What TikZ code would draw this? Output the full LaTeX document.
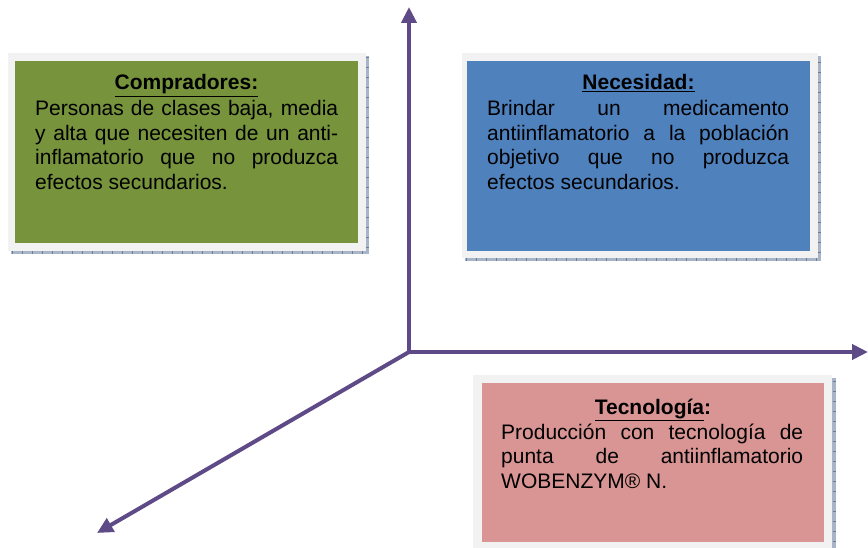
\documentclass[tikz,border=0pt]{standalone}
\usepackage{fontspec}
\setmainfont{Liberation Sans}
\usetikzlibrary{arrows.meta}

\definecolor{eje}{RGB}{94,74,134}
\definecolor{marco}{RGB}{242,242,242}
\definecolor{sombra}{RGB}{168,180,200}
\definecolor{raya}{RGB}{110,124,150}
\definecolor{verde}{RGB}{119,147,60}
\definecolor{azul}{RGB}{79,129,189}
\definecolor{rosa}{RGB}{217,149,148}

\tikzset{
	flecha/.style={draw=eje, line width=4pt, -{Triangle[length=16pt,width=15pt]}},
	caja/.style={rectangle, inner sep=0pt, draw=none},
	titulo/.style={inner sep=0pt, anchor=base, font=\fontsize{21}{24.5}\selectfont\bfseries},
	texto/.style={inner sep=0pt, anchor=base west, align=justify, font=\fontsize{21}{24.5}\selectfont}
}

\begin{document}
\begin{tikzpicture}[x=1pt, y=-1pt]
	\useasboundingbox (0,0) rectangle (868,548);

	% Marcos con sombra
	%Compradores
	\fill[sombra] (11,56) rectangle (369,254);
	\draw[raya, line width=3pt, dash pattern=on 1pt off 9pt] (12,252.5) -- (367.5,252.5) -- (367.5,57);
	\fill[marco] (8,53) rectangle (366,251);
	%Necesidad
	\fill[sombra] (465,56) rectangle (821,261);
	\draw[raya, line width=3pt, dash pattern=on 1pt off 9pt] (466,259.5) -- (819.5,259.5) -- (819.5,57);
	\fill[marco] (462,53) rectangle (818,258);
	%Tecnologia
	\fill[sombra] (476,378) rectangle (836,552);
	\draw[raya, line width=3pt, dash pattern=on 1pt off 9pt] (834.5,552) -- (834.5,379);
	\fill[marco] (473,375) rectangle (832,550);

	% Cajas de color
	\node[caja, fill=verde, minimum width=343pt, minimum height=182pt] (cComp) at (186.5,152) {};
	\node[caja, fill=azul, minimum width=343pt, minimum height=190pt] (cNec) at (638.5,156) {};
	\node[caja, fill=rosa, minimum width=342pt, minimum height=159pt] (cTec) at (653,462.5) {};

	% Ejes
	\coordinate (O) at (409,352);
	\coordinate (arriba) at (409,7);
	\coordinate (derecha) at (868,352);
	\coordinate (abajo) at (97,533);
	\draw[flecha] (O) -- (arriba);
	\draw[flecha] (O) -- (derecha);
	\draw[flecha] (O) -- (abajo);

	% Textos
	\node[titulo] (tComp) at (186.5,90) {\underline{Compradores:}};
	\node[texto, text width=303pt] (bComp) at (35,116)
		{Personas de clases baja, media\linebreak y alta que necesiten de un anti-\linebreak inflamatorio que no produzca\linebreak efectos secundarios.};

	\node[titulo] (tNec) at (638.5,90) {\underline{Necesidad:}};
	\node[texto, text width=302pt] (bNec) at (487,116)
		{Brindar un medicamento\linebreak antiinflamatorio a la población\linebreak objetivo que no produzca\linebreak efectos secundarios.};

	\node[titulo] (tTec) at (653,414) {\underline{Tecnología}:};
	\node[texto, text width=302pt] (bTec) at (501,439)
		{Producción con tecnología de\linebreak punta de antiinflamatorio\linebreak WOBENZYM® N.};

\end{tikzpicture}
\end{document}
